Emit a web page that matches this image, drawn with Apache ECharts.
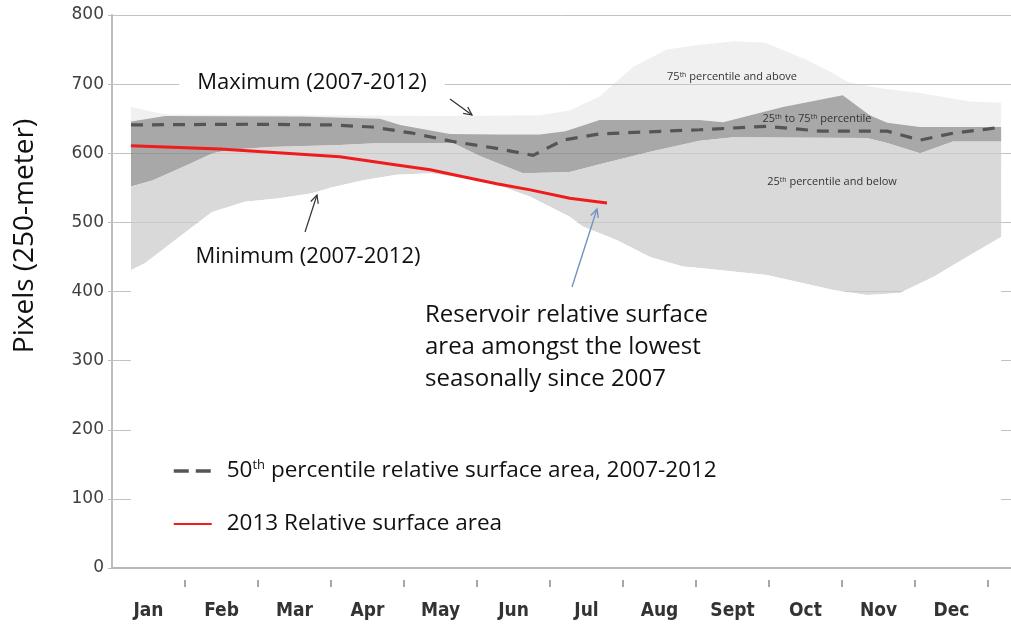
<!DOCTYPE html>
<html><head><meta charset="utf-8">
<script src="https://cdn.jsdelivr.net/npm/echarts@6/dist/echarts.min.js"></script>
<style>html,body{margin:0;padding:0;background:#fff}#c{width:1011px;height:629px}</style>
</head><body><div id="c"></div>
<script>
// ---- data (x in month units from start of Jan, y in pixels) ----
const months = ['Jan','Feb','Mar','Apr','May','Jun','Jul','Aug','Sept','Oct','Nov','Dec'];
const X_MAX = 12.315;
const Y_MIN = 0, Y_MAX = 800, Y_STEP = 100;

const maxPos = [0.26,0.73,2.58,4.63,5.86,6.27,6.68,7.14,7.60,8.05,8.53,8.95,9.52,9.84,10.08,10.53,11.07,11.75,12.18];
const maxVal = [667,656,655,654,655,662,682,725,750,757,762,760,735,718,703,694,687,675,673];

const p75Pos = [0.26,0.73,2.58,3.67,3.95,4.63,5.32,5.86,6.21,6.68,8.05,8.37,9.19,10.01,10.38,10.62,11.07,12.18];
const p75Val = [646,654,653,650,641,628,627,627,632,648,648,645,667,684,655,644,638,638];

const p25Pos = [0.26,0.56,1.03,1.38,1.62,2.16,3.12,3.67,4.67,5.04,5.63,6.27,6.68,7.37,8.05,8.51,10.34,10.62,11.07,11.52,12.18];
const p25Val = [552,561,583,600,605,609,612,615,615,596,571,573,584,602,618,623,622,615,600,617,617];

const minPos = [0.26,0.45,0.92,1.37,1.82,2.29,2.74,2.99,3.44,3.90,4.36,4.77,5.04,5.36,5.73,6.27,6.45,6.92,7.37,7.82,8.05,8.97,9.88,10.34,10.79,11.25,11.71,12.18];
const minVal = [431,441,479,515,530,535,542,550,561,569,571,565,560,551,537,508,494,474,450,436,434,424,402,395,398,421,450,479];

const medPos = [0.26,1.89,2.99,3.56,4.12,4.67,5.27,5.77,6.18,6.68,8.05,8.97,9.70,10.62,11.07,11.52,11.99,12.18];
const medVal = [641,642,641,638,629,617,607,597,619,628,634,639,632,632,619,629,635,638];

const redPos = [0.26,1.48,3.12,3.90,4.36,4.81,5.27,5.73,6.27,6.78];
const redVal = [611,606,595,583,576,566,556,547,535,528];

const MED = '50th percentile relative surface area, 2007-2012';
const RED = '2013 Relative surface area';

const zip = (a, b) => a.map((v, i) => [v, b[i]]);
const FONT = '"Open Sans", "Liberation Sans", sans-serif';

function band(upX, upY, loX, loY, fill, z) {
  return {
    type: 'custom', xAxisIndex: 0, yAxisIndex: 0, silent: true, z: z,
    data: [[0, 0]],
    renderItem: function (params, api) {
      const pts = [];
      for (let i = 0; i < upX.length; i++) pts.push(api.coord([upX[i], upY[i]]));
      for (let i = loX.length - 1; i >= 0; i--) pts.push(api.coord([loX[i], loY[i]]));
      return { type: 'polygon', shape: { points: pts }, style: { fill: fill } };
    }
  };
}

function arrow(x1, y1, x2, y2, color, w) {
  const a = Math.atan2(y2 - y1, x2 - x1), L = 9, s = 0.45;
  const p1 = [x2 - L * Math.cos(a - s), y2 - L * Math.sin(a - s)];
  const p2 = [x2 - L * Math.cos(a + s), y2 - L * Math.sin(a + s)];
  return { type: 'group', silent: true, z: 100, children: [
    { type: 'line', z: 100, shape: { x1: x1, y1: y1, x2: x2, y2: y2 }, style: { stroke: color, lineWidth: w } },
    { type: 'polyline', z: 100, shape: { points: [p1, [x2, y2], p2] }, style: { stroke: color, lineWidth: w, fill: null } }
  ]};
}

function txt(x, y, text, size, opts) {
  opts = opts || {};
  return {
    type: 'text', x: x, y: y, z: 100, silent: true, rotation: opts.rotation || 0,
    style: Object.assign({
      text: text, fontSize: size, fontFamily: FONT, fill: opts.color || '#111',
      align: opts.align || 'center', textAlign: opts.align || 'center',
      verticalAlign: opts.va || 'middle', textVerticalAlign: opts.va || 'middle'
    }, opts.style || {})
  };
}

const supRich = { s: { fontSize: 7, verticalAlign: 'top', fontFamily: FONT, fill: '#333' } };

const chart = echarts.init(document.getElementById('c'));
chart.setOption({
  animation: false,
  backgroundColor: '#fff',
  grid: [
    { left: 112, right: 0, top: 15, bottom: 61 },
    { left: 112, right: 23, top: 15, bottom: 49 }
  ],
  xAxis: [
    { type: 'value', gridIndex: 0, min: 0, max: X_MAX, z: 5,
      axisLine: { show: true, onZero: false, lineStyle: { color: '#b8b8b8', width: 2 } },
      axisTick: { show: false }, axisLabel: { show: false }, splitLine: { show: false } },
    { type: 'category', gridIndex: 1, data: months, boundaryGap: true,
      axisLine: { show: false },
      axisTick: { show: true, length: 7, lineStyle: { color: '#8a8a8a', width: 1.5 },
        interval: function (index) { return index !== 0; } },
      axisLabel: { margin: 22, fontSize: 19, fontWeight: 'bold', color: '#333',
        fontFamily: '"Liberation Sans Narrow", "DejaVu Sans Condensed", ' + FONT },
      splitLine: { show: false } }
  ],
  yAxis: [
    { type: 'value', gridIndex: 0, min: Y_MIN, max: Y_MAX, interval: Y_STEP,
      axisLine: { show: true, lineStyle: { color: '#bdbdbd', width: 2 } },
      axisTick: { show: true, length: 4, lineStyle: { color: '#bdbdbd' } },
      axisLabel: { fontSize: 17, color: '#404040', fontFamily: '"DejaVu Sans"', margin: 8 },
      splitLine: { lineStyle: { color: '#c2c2c2', width: 1 } } },
    { type: 'value', gridIndex: 1, show: false, min: 0, max: 1 }
  ],
  legend: {
    data: [
      { name: MED, lineStyle: { width: 3.5, type: [15, 7], color: '#555' } },
      { name: RED, lineStyle: { width: 2.2, color: '#ee1c1c' } }
    ],
    orient: 'vertical', left: 167, top: 454,
    itemWidth: 38, itemHeight: 14, itemGap: 29, selectedMode: false,
    itemStyle: { opacity: 0 },
    textStyle: { fontSize: 22.5, color: '#111', fontFamily: FONT, lineHeight: 24,
      padding: [0, 0, 0, 10],
      rich: { s: { fontSize: 13, verticalAlign: 'top', lineHeight: 24, fontFamily: FONT, color: '#111' } } },
    formatter: function (n) { return n === MED ? '50{s|th} percentile relative surface area, 2007-2012' : n; }
  },
  series: [
    band(maxPos, maxVal, p75Pos, p75Val, 'rgba(205,205,205,0.3)', 2),
    band(p75Pos, p75Val, p25Pos, p25Val, 'rgba(140,140,140,0.76)', 2),
    band(p25Pos, p25Val, minPos, minVal, 'rgba(203,203,203,0.73)', 2),
    band(minPos, minVal, [minPos[0], minPos[minPos.length - 1]], [Y_MIN, Y_MIN], '#ffffff', 2),
    { type: 'line', name: MED, xAxisIndex: 0, yAxisIndex: 0, data: zip(medPos, medVal), symbol: 'none', silent: true, z: 4,
      itemStyle: { color: '#555' }, lineStyle: { color: '#555', width: 3.2, type: [12, 9] } },
    { type: 'line', name: RED, xAxisIndex: 0, yAxisIndex: 0, data: zip(redPos, redVal), symbol: 'none', silent: true, z: 5,
      itemStyle: { color: '#ee1c1c' }, lineStyle: { color: '#ee1c1c', width: 3 } }
  ],
  graphic: [
    txt(25, 236, 'Pixels (250-meter)', 28, { rotation: Math.PI / 2, color: '#111' }),
    txt(312, 83, 'Maximum (2007-2012)', 22, { style: { backgroundColor: '#fff', padding: [3, 18] } }),
    arrow(450, 99, 472, 115, '#333', 1.2),
    txt(308, 257, 'Minimum (2007-2012)', 22),
    arrow(305, 232, 317, 195, '#333', 1.2),
    txt(425, 299, 'Reservoir relative surface\narea amongst the lowest\nseasonally since 2007', 24,
      { align: 'left', va: 'top', style: { lineHeight: 32 } }),
    arrow(572, 287, 597, 209, '#7393c0', 1.4),
    txt(732, 77, '75{s|th} percentile and above', 11, { color: '#333', style: { rich: supRich } }),
    txt(817, 119, '25{s|th} to 75{s|th} percentile', 11, { color: '#333', style: { rich: supRich } }),
    txt(832, 182, '25{s|th} percentile and below', 11, { color: '#333', style: { rich: supRich } })
  ]
});
</script>
</body></html>
